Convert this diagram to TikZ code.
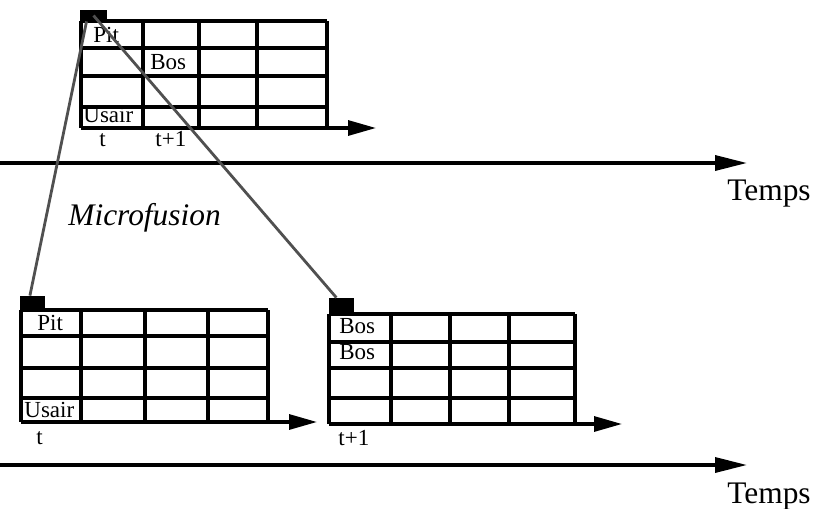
\documentclass[tikz,border=0pt]{standalone}
\usepackage{fontspec}
\setmainfont{Liberation Serif}
\usetikzlibrary{arrows.meta,calc}
\definecolor{linkgray}{HTML}{505050}

\begin{document}
\begin{tikzpicture}[x=0.5pt, y=-0.5pt,
    cellline/.style={line width=1.6pt},
    taxis/.style={line width=1.6pt, -{Triangle[length=14pt, width=7.5pt]}},
    timeaxis/.style={line width=1.7pt, -{Triangle[length=16pt, width=7.5pt]}},
    link/.style={draw=linkgray, line width=1.4pt},
    marker/.style={fill=black, inner sep=0pt},
    lbl/.style={font=\fontsize{11.5}{13}\selectfont, inner sep=0pt, anchor=base west},
    big/.style={font=\fontsize{15.7}{18}\selectfont, inner sep=0pt, anchor=base west},
]
\useasboundingbox (0,0) rectangle (821,509);

% grille du haut
\foreach \y in {21,48,76,107}
    \draw[cellline] (81,\y) -- (327,\y);
\foreach \x in {81,143,199,257,327}
    \draw[cellline] (\x,21) -- (\x,128);
\draw[taxis] (81,128) -- (376,128);
\node[lbl] (pitH) at (93,42) {Pit};
\node[lbl] (bosH) at (150,69) {Bos};
\node[lbl] (usairH) at (83,122) {Usair};
\node[lbl] (tH) at (99,146) {t};
\node[lbl] (t1H) at (155,146) {t+1};

% grille en bas a gauche
\foreach \y in {310,336,368,398}
    \draw[cellline] (21,\y) -- (268,\y);
\foreach \x in {21,81,145,208,268}
    \draw[cellline] (\x,310) -- (\x,422);
\draw[taxis] (21,422) -- (317,422);
\node[lbl] (pitA) at (37,330) {Pit};
\node[lbl] (usairA) at (24,417) {Usair};
\node[lbl] (tA) at (36,444) {t};

% grille en bas a droite
\foreach \y in {314,342,368,398}
    \draw[cellline] (329,\y) -- (575,\y);
\foreach \x in {329,391,450,509,575}
    \draw[cellline] (\x,314) -- (\x,424);
\draw[taxis] (329,424) -- (622,424);
\node[lbl] (bosB1) at (339,333) {Bos};
\node[lbl] (bosB2) at (339,359) {Bos};
\node[lbl] (t1B) at (338,445) {t+1};

% axes du temps
\draw[timeaxis] (0,163) -- (747,163);
\draw[timeaxis] (0,465) -- (747,465);
\node[big] (tempsH) at (727,200) {Temps};
\node[big] (tempsB) at (727,503) {Temps};
\node[big, font=\fontsize{15.7}{18}\selectfont\itshape] (micro) at (68,225) {Microfusion};

% marqueurs et liens
\node[marker, minimum width=13.5pt, minimum height=5.5pt] (mk0) at (93.5,15.5) {};
\node[marker, minimum width=12.5pt, minimum height=7pt] (mkA) at (32.5,303) {};
\node[marker, minimum width=12.5pt, minimum height=8pt] (mkB) at (341.5,306) {};
\draw[link] ($(mk0.south west)!0.25!(mk0.south east)$) -- ($(mkA.north west)!0.4!(mkA.north east)$);
\draw[link] (mk0.center) -- ($(mkB.north west)!0.3!(mkB.north east)$);
\end{tikzpicture}
\end{document}
